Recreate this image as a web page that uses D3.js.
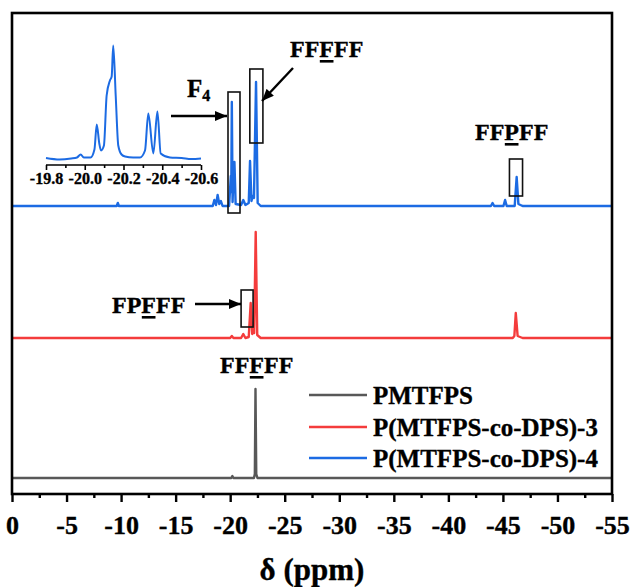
<!DOCTYPE html>
<html>
<head>
<meta charset="utf-8">
<script src="https://cdn.jsdelivr.net/npm/d3@7"></script>
<style>
  body { margin: 0; background: #fff; }
  svg text { font-family: "Liberation Serif", "Times New Roman", serif; font-weight: bold; fill: #000; stroke: #000; stroke-width: 0.35px; }
</style>
</head>
<body>
<div id="chart"></div>
<script>
// ---------- data (ppm, intensity above own baseline) ----------
const seriesNames = ["PMTFPS", "P(MTFPS-co-DPS)-3", "P(MTFPS-co-DPS)-4"];
const seriesOffsets = [16, 156, 288];   // vertical stacking of the spectra

const pmtfps = [[0,0],[-20.1,0],[-20.2,2],[-20.3,0],[-22.18,0],[-22.26,4],[-22.32,89],[-22.39,4],[-22.5,0],[-55,0]];

const copo3 = [[0,0],[-20.0,0],[-20.15,2],[-20.3,0],[-21.0,0],[-21.2,4],[-21.4,0],[-21.7,1],[-21.88,35],[-22.02,4],
  [-22.12,8],[-22.2,5],[-22.34,106],[-22.48,3],[-22.8,0],[-45.9,0],[-46.05,2],[-46.18,25],[-46.35,2],[-46.8,0],[-55,0]];

const copo4 = [[0,0],[-9.6,0],[-9.7,3],[-9.8,0],[-18.4,0],[-18.55,6],[-18.7,1],[-18.85,11],[-19.0,2],[-19.15,5],[-19.3,0],
  [-19.9,0],[-20.06,30],[-20.1,14],[-20.15,104],[-20.22,4],[-20.33,40],[-20.36,18],[-20.39,44],[-20.5,2],[-21.0,1],
  [-21.2,6],[-21.4,1],[-21.7,3],[-21.82,45],[-21.95,5],[-22.08,10],[-22.18,8],[-22.37,124],[-22.52,3],[-22.8,0],
  [-43.9,0],[-44.05,3],[-44.2,0],[-45.05,0],[-45.2,6],[-45.35,0],[-46.08,0],[-46.26,29],[-46.42,2],[-46.8,0],[-55,0]];

// expanded F4 region of P(MTFPS-co-DPS)-4
const insetSpectrum = [[-19.8,1.5],[-19.87,0],[-19.93,1],[-19.96,2],[-19.979,5],[-19.995,2],[-20.03,2],[-20.05,10],
  [-20.062,35],[-20.075,16],[-20.084,9],[-20.099,14],[-20.113,64],[-20.13,79],[-20.139,83],[-20.147,114],[-20.16,63],
  [-20.173,14],[-20.19,5],[-20.208,3],[-20.25,2],[-20.285,2],[-20.311,9],[-20.328,46],[-20.354,6],[-20.375,48],
  [-20.392,6],[-20.44,2],[-20.5,1.5],[-20.55,0.5],[-20.6,1]];

const xTicks = [0, -5, -10, -15, -20, -25, -30, -35, -40, -45, -50, -55];
const xMinorTicks = [-2.5, -7.5, -12.5, -17.5, -22.5, -27.5, -32.5, -37.5, -42.5, -47.5, -52.5];
const insetTicks = [-19.8, -20.0, -20.2, -20.4, -20.6];
const insetMinorTicks = [-19.9, -20.1, -20.3, -20.5];

// ---------- layout ----------
const width = 631, height = 587;
const plot = { left: 12, right: 612, top: 13, bottom: 494 };
const colors = ["#585858", "#f43c3c", "#1c6be3"];

const svg = d3.select("#chart").append("svg")
  .attr("width", width).attr("height", height);

const x = d3.scaleLinear().domain([0, -55]).range([plot.left, plot.right]);
const y = d3.scaleLinear().domain([0, plot.bottom - plot.top]).range([plot.bottom, plot.top]);

// ---------- spectra ----------
[pmtfps, copo3, copo4].forEach((spec, i) => {
  const line = d3.line()
    .x(d => x(d[0]))
    .y(d => y(d[1] + seriesOffsets[i]));
  svg.append("path")
    .attr("d", line(spec))
    .attr("fill", "none")
    .attr("stroke", colors[i])
    .attr("stroke-width", 2.4)
    .attr("stroke-linejoin", "round");
});

// ---------- frame + bottom axis ----------
svg.append("rect")
  .attr("x", plot.left).attr("y", plot.top)
  .attr("width", plot.right - plot.left).attr("height", plot.bottom - plot.top)
  .attr("fill", "none").attr("stroke", "#000").attr("stroke-width", 2.6);

const axisG = svg.append("g").attr("transform", `translate(0,${plot.bottom})`)
  .call(d3.axisBottom(x).tickValues(xTicks).tickSize(8).tickPadding(14));
axisG.select(".domain").remove();
axisG.selectAll("line").attr("stroke-width", 2.4);
axisG.selectAll("text").attr("font-size", 26).attr("font-family", null)
  .text(d => d === 0 ? "0" : "-" + Math.abs(d));

const minorG = svg.append("g").attr("transform", `translate(0,${plot.bottom})`)
  .call(d3.axisBottom(x).tickValues(xMinorTicks).tickSize(4).tickFormat(""));
minorG.select(".domain").remove();
minorG.selectAll("line").attr("stroke-width", 2.4);

svg.append("text")
  .attr("x", (plot.left + plot.right) / 2).attr("y", 580)
  .attr("text-anchor", "middle").attr("font-size", 31)
  .text("δ (ppm)");

// ---------- inset ----------
const xi = d3.scaleLinear().domain([-19.8, -20.6]).range([46, 201]);
const yi = d3.scaleLinear().domain([0, 115]).range([159.5, 44.5]);

svg.append("path")
  .attr("d", d3.line().x(d => xi(d[0])).y(d => yi(d[1])).curve(d3.curveMonotoneX)(insetSpectrum))
  .attr("fill", "none").attr("stroke", colors[2]).attr("stroke-width", 2);

const insetAxis = svg.append("g").attr("transform", "translate(0,165)")
  .call(d3.axisBottom(xi).tickValues(insetTicks).tickSize(5).tickPadding(3));
insetAxis.select(".domain").attr("stroke-width", 1.6).attr("d", `M${xi(-19.8)},0H${xi(-20.6)}`);
insetAxis.selectAll("line").attr("stroke-width", 1.6);
insetAxis.selectAll("text").attr("font-size", 16).attr("font-family", null)
  .text(d => "-" + Math.abs(d).toFixed(1));

const insetMinor = svg.append("g").attr("transform", "translate(0,165)")
  .call(d3.axisBottom(xi).tickValues(insetMinorTicks).tickSize(3).tickFormat(""));
insetMinor.select(".domain").remove();
insetMinor.selectAll("line").attr("stroke-width", 1.6);

// ---------- annotations ----------
const boxes = [
  { x0: -19.8, x1: -20.9, top: 92, bottom: 213 },
  { x0: -21.8, x1: -23.0, top: 69, bottom: 143 },
  { x0: -45.6, x1: -46.8, top: 159, bottom: 196 },
  { x0: -21.0, x1: -22.1, top: 290, bottom: 327 }
];
boxes.forEach(b => {
  svg.append("rect")
    .attr("x", x(b.x0)).attr("y", b.top)
    .attr("width", x(b.x1) - x(b.x0)).attr("height", b.bottom - b.top)
    .attr("fill", "none").attr("stroke", "#111").attr("stroke-width", 1.6);
});

const defs = svg.append("defs");
defs.append("marker")
  .attr("id", "head").attr("viewBox", "0 0 12 10")
  .attr("refX", 12).attr("refY", 5)
  .attr("markerWidth", 13).attr("markerHeight", 10)
  .attr("markerUnits", "userSpaceOnUse").attr("orient", "auto")
  .append("path").attr("d", "M0,0L12,5L0,10Z").attr("fill", "#000");

const arrows = [
  [171, 116, 227, 116],
  [293, 68, 262, 101],
  [195, 304, 241, 304]
];
arrows.forEach(a => {
  svg.append("line")
    .attr("x1", a[0]).attr("y1", a[1]).attr("x2", a[2]).attr("y2", a[3])
    .attr("stroke", "#000").attr("stroke-width", 2.4)
    .attr("marker-end", "url(#head)");
});

const labels = [
  { text: "FFFFF", u: 2, x: 290, y: 57 },
  { text: "FFPFF", u: 2, x: 475, y: 140 },
  { text: "FPFFF", u: 2, x: 112, y: 313 },
  { text: "FFFFF", u: 2, x: 220, y: 373 }
];
labels.forEach(l => {
  const t = svg.append("text")
    .attr("x", l.x).attr("y", l.y).attr("font-size", 24)
    .text(l.text);
  const ext = t.node().getExtentOfChar(l.u);
  svg.append("rect")
    .attr("x", ext.x + 0.5).attr("y", l.y + 3)
    .attr("width", ext.width - 1).attr("height", 2.6)
    .attr("fill", "#000");
});

const f4 = svg.append("text").attr("x", 187).attr("y", 97).attr("font-size", 25);
f4.append("tspan").text("F");
f4.append("tspan").attr("font-size", 16).attr("dy", 4).text("4");

// ---------- legend ----------
const legendY = [395, 427, 458];
seriesNames.forEach((name, i) => {
  svg.append("line")
    .attr("x1", 309).attr("x2", 367)
    .attr("y1", legendY[i]).attr("y2", legendY[i])
    .attr("stroke", colors[i]).attr("stroke-width", 2.6);
  svg.append("text")
    .attr("x", 373).attr("y", legendY[i] + 9)
    .attr("font-size", 25)
    .text(name);
});
</script>
</body>
</html>
